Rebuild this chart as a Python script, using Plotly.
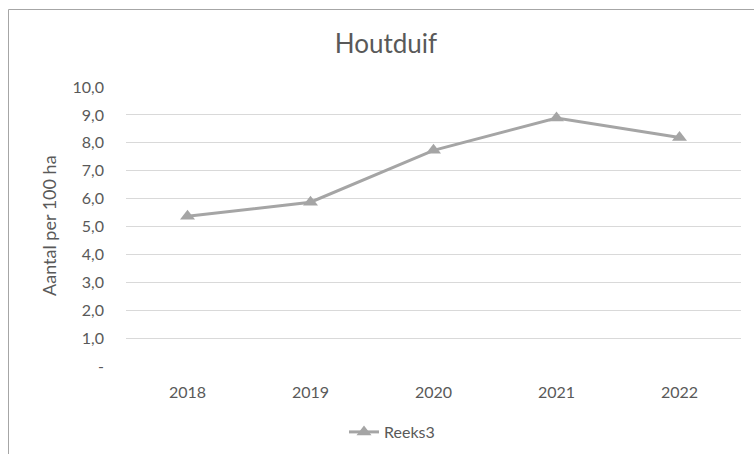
import plotly.graph_objects as go

# Houtduif counts per 100 ha by year
years = ["2018", "2019", "2020", "2021", "2022"]
reeks3 = [5.37, 5.87, 7.73, 8.89, 8.19]

y_ticks = [0, 1, 2, 3, 4, 5, 6, 7, 8, 9, 10]
y_ticktext = ["-", "1,0", "2,0", "3,0", "4,0", "5,0", "6,0", "7,0", "8,0", "9,0", "10,0"]

W, H = 754, 454
L, R, T, B = 126, 13, 87, 88
pw, ph = W - L - R, H - T - B

def px_x(x):
    return (x - L) / pw

def px_y(y):
    return (H - B - y) / ph

font = "Lato, 'Open Sans', sans-serif"
grey_text = "#595959"

fig = go.Figure()
fig.add_trace(go.Scatter(
    x=years, y=reeks3, name="Reeks3", mode="lines+markers",
    line=dict(color="#A5A5A5", width=3),
    marker=dict(symbol="triangle-up", size=13, color="#A5A5A5"),
))

fig.update_layout(
    width=W, height=H,
    margin=dict(l=L, r=R, t=T, b=B, autoexpand=False),
    paper_bgcolor="white", plot_bgcolor="white",
    font=dict(family=font, color=grey_text, size=16),
    title=dict(text="Houtduif", x=386 / W, xanchor="center",
               y=1 - 44 / H, yanchor="middle",
               font=dict(size=26, color=grey_text, family=font)),
    showlegend=True,
    legend=dict(orientation="h", x=px_x(344), xanchor="left",
                y=px_y(432), yanchor="middle",
                font=dict(size=16, color=grey_text)),
    xaxis=dict(type="category", range=[-0.5, 4.5], showgrid=False,
               showline=False, zeroline=False, ticks="",
               tickfont=dict(size=16, color=grey_text),
               ticklabelstandoff=15),
    yaxis=dict(range=[0, 10], tickvals=y_ticks, ticktext=y_ticktext,
               showgrid=True, gridcolor="#D9D9D9", gridwidth=1.3,
               zeroline=False, showline=False, ticks="",
               tickfont=dict(size=16, color=grey_text),
               ticklabelstandoff=21),
)

# y-axis title
fig.add_annotation(text="Aantal per 100 ha", xref="paper", yref="paper",
                   x=px_x(49), y=px_y(226), xanchor="center", yanchor="middle",
                   textangle=-90, showarrow=False,
                   font=dict(size=18, color=grey_text, family=font))

# chart frame (left and top edges)
fig.add_shape(type="line", xref="paper", yref="paper",
              x0=px_x(8.5), x1=px_x(8.5), y0=px_y(460), y1=px_y(9.5),
              line=dict(color="#A6A6A6", width=1))
fig.add_shape(type="line", xref="paper", yref="paper",
              x0=px_x(8.5), x1=px_x(760), y0=px_y(9.5), y1=px_y(9.5),
              line=dict(color="#A6A6A6", width=1))

fig.write_html("out.html")
